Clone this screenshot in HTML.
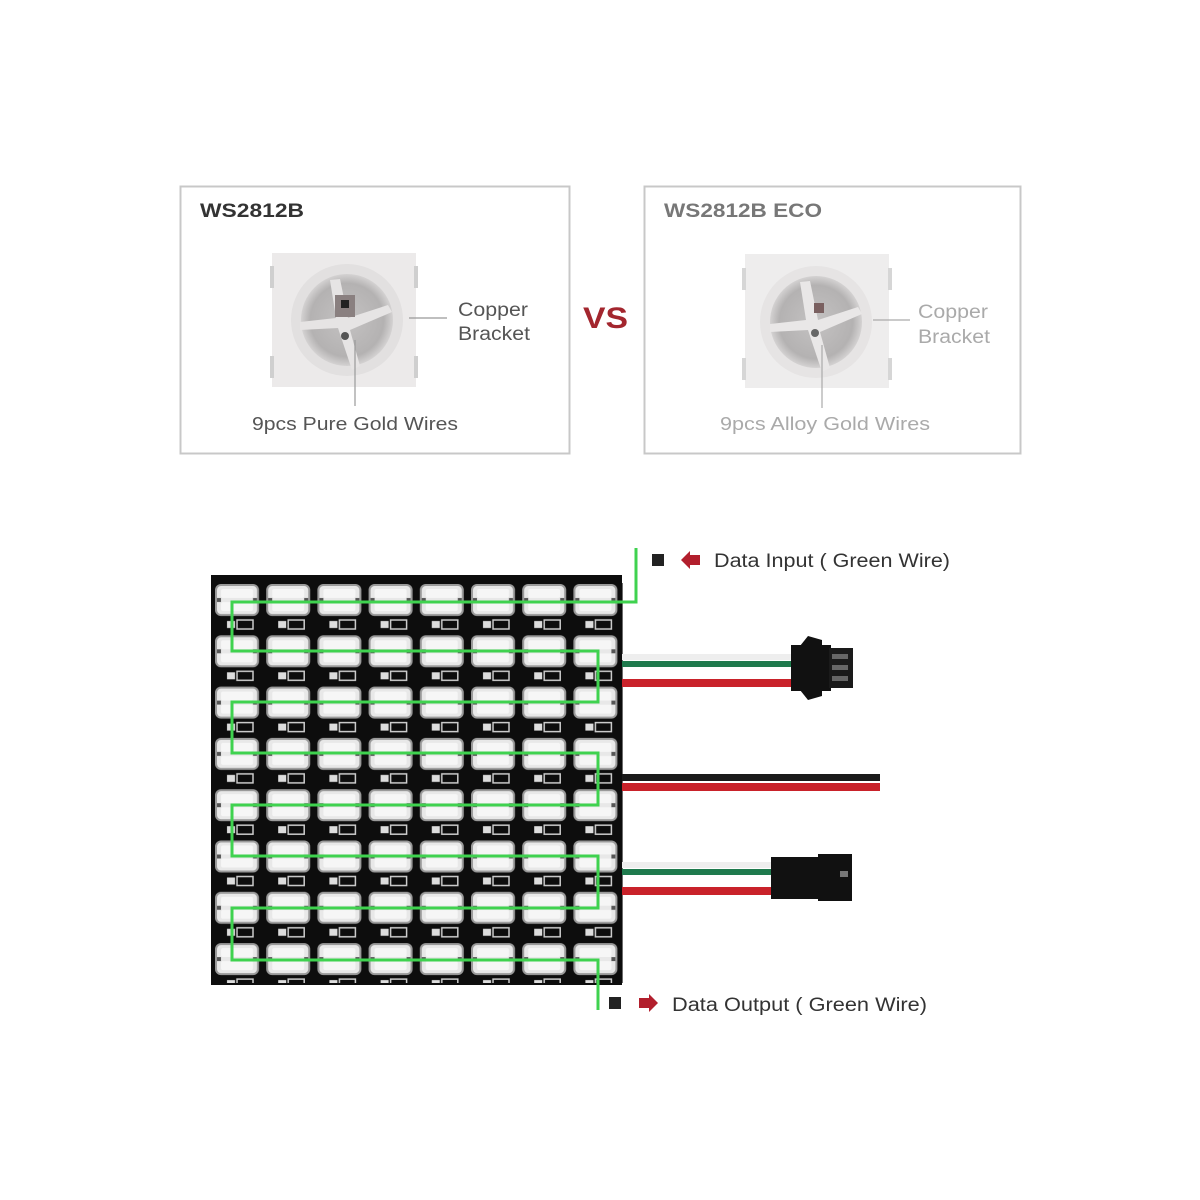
<!DOCTYPE html>
<html><head><meta charset="utf-8"><style>
html,body{margin:0;padding:0;background:#fff;}
svg{display:block;}
text{font-family:"Liberation Sans",sans-serif;}
</style></head><body>
<svg width="1200" height="1200" viewBox="0 0 1200 1200" xmlns="http://www.w3.org/2000/svg">
<defs>
  <pattern id="cell" x="213" y="583" width="51.2" height="51.3" patternUnits="userSpaceOnUse">
    <rect x="0" y="0" width="51.2" height="51.3" fill="#0d0d0d"/>
    <rect x="3" y="2" width="42" height="30" rx="5" fill="#e8e8e8" stroke="#9a9a9a" stroke-width="2"/>
    <rect x="8" y="6" width="32" height="9" rx="2" fill="#f6f6f6"/>
    <rect x="8" y="19" width="32" height="9" rx="2" fill="#f6f6f6"/>
    <rect x="4" y="15" width="4" height="4" fill="#555"/>
    <rect x="40" y="15" width="4" height="4" fill="#555"/>
    <rect x="14" y="38" width="8" height="7" fill="#ddd"/>
    <rect x="24" y="37" width="16" height="9" fill="none" stroke="#ccc" stroke-width="1.5"/>
  </pattern>
  <radialGradient id="lens" cx="50%" cy="50%" r="50%">
    <stop offset="0" stop-color="#c4c2c2"/><stop offset="0.8" stop-color="#b4b2b2"/><stop offset="1" stop-color="#d4d2d2"/>
  </radialGradient>
</defs>

<rect x="180.5" y="186.5" width="389" height="267" fill="#fff" stroke="#c8c8c8" stroke-width="2"/>
<rect x="644.5" y="186.5" width="376" height="267" fill="#fff" stroke="#c8c8c8" stroke-width="2"/>
<text x="200" y="217" font-size="19" font-weight="bold" fill="#333" textLength="104" lengthAdjust="spacingAndGlyphs">WS2812B</text>
<text x="664" y="217" font-size="19" font-weight="bold" fill="#777" textLength="158" lengthAdjust="spacingAndGlyphs">WS2812B ECO</text>
<text x="583" y="328" font-size="30" font-weight="bold" fill="#a3262e" textLength="45" lengthAdjust="spacingAndGlyphs">VS</text>

<g>
  <rect x="272" y="253" width="144" height="134" fill="#eceaea"/>
  <rect x="270" y="266" width="4" height="22" fill="#cfcfcf"/><rect x="270" y="356" width="4" height="22" fill="#cfcfcf"/>
  <rect x="414" y="266" width="4" height="22" fill="#cfcfcf"/><rect x="414" y="356" width="4" height="22" fill="#cfcfcf"/>
  <circle cx="347" cy="320" r="56" fill="#e2e0e0"/>
  <circle cx="347" cy="320" r="46" fill="url(#lens)"/>
  <path d="M330 280 L336 318 L300 322 L300 330 L338 328 L352 370 L360 366 L350 330 L392 312 L388 305 L348 318 L340 279Z" fill="#e6e4e4"/>
  <rect x="335" y="295" width="20" height="22" fill="#8a8080"/>
  <rect x="341" y="300" width="8" height="8" fill="#222"/>
  <circle cx="345" cy="336" r="4" fill="#555"/>
  <line x1="409" y1="318" x2="447" y2="318" stroke="#999" stroke-width="1.2"/>
  <line x1="355" y1="340" x2="355" y2="406" stroke="#999" stroke-width="1.2"/>
</g>
<text x="458" y="316" font-size="19" fill="#555" textLength="70" lengthAdjust="spacingAndGlyphs">Copper</text>
<text x="458" y="340" font-size="19" fill="#555" textLength="72" lengthAdjust="spacingAndGlyphs">Bracket</text>
<text x="252" y="430" font-size="18" fill="#555" textLength="206" lengthAdjust="spacingAndGlyphs">9pcs Pure Gold Wires</text>

<g>
  <rect x="745" y="254" width="144" height="134" fill="#eeeded"/>
  <rect x="742" y="268" width="4" height="22" fill="#d6d6d6"/><rect x="742" y="358" width="4" height="22" fill="#d6d6d6"/>
  <rect x="888" y="268" width="4" height="22" fill="#d6d6d6"/><rect x="888" y="358" width="4" height="22" fill="#d6d6d6"/>
  <circle cx="816" cy="322" r="56" fill="#e6e4e4"/>
  <circle cx="816" cy="322" r="46" fill="url(#lens)"/>
  <path d="M800 282 L806 320 L770 324 L770 332 L808 330 L822 372 L830 368 L820 332 L862 314 L858 307 L818 320 L810 281Z" fill="#e9e7e7"/>
  <rect x="814" y="303" width="10" height="10" fill="#7a6060"/>
  <circle cx="815" cy="333" r="4" fill="#666"/>
  <line x1="873" y1="320" x2="910" y2="320" stroke="#aaa" stroke-width="1.2"/>
  <line x1="822" y1="345" x2="822" y2="408" stroke="#aaa" stroke-width="1.2"/>
</g>
<text x="918" y="318" font-size="19" fill="#aaa" textLength="70" lengthAdjust="spacingAndGlyphs">Copper</text>
<text x="918" y="343" font-size="19" fill="#aaa" textLength="72" lengthAdjust="spacingAndGlyphs">Bracket</text>
<text x="720" y="430" font-size="18" fill="#aaa" textLength="210" lengthAdjust="spacingAndGlyphs">9pcs Alloy Gold Wires</text>

<rect x="211" y="575" width="411" height="410" fill="#0d0d0d"/>
<rect x="213" y="583" width="409.6" height="400" fill="url(#cell)"/>

<g fill="none" stroke="#3fd24f" stroke-width="3">
  <path d="M636 548 L636 602 L232 602 L232 651 L598 651 L598 702 L232 702 L232 753 L598 753 L598 805 L232 805 L232 856 L598 856 L598 908 L232 908 L232 960 L598 960 L598 1010"/>
</g>

<g>
  <rect x="622" y="654" width="172" height="6" fill="#eeeeee"/>
  <rect x="622" y="661" width="172" height="6" fill="#1f7a4d"/>
  <rect x="622" y="679" width="172" height="8" fill="#c9222a"/>
  <path d="M800 646 L808 636 L822 640 L822 646Z" fill="#111"/>
  <path d="M800 690 L808 700 L822 696 L822 690Z" fill="#111"/>
  <rect x="791" y="645" width="40" height="46" fill="#111"/>
  <rect x="829" y="648" width="24" height="40" fill="#1a1a1a"/>
  <rect x="832" y="654" width="16" height="5" fill="#666"/>
  <rect x="832" y="665" width="16" height="5" fill="#666"/>
  <rect x="832" y="676" width="16" height="5" fill="#666"/>
</g>
<rect x="622" y="774" width="258" height="7" fill="#1a1a1a"/>
<rect x="622" y="783" width="258" height="8" fill="#c9222a"/>
<g>
  <rect x="622" y="862" width="150" height="6" fill="#eeeeee"/>
  <rect x="622" y="869" width="150" height="6" fill="#1f7a4d"/>
  <rect x="622" y="887" width="150" height="8" fill="#c9222a"/>
  <rect x="771" y="857" width="50" height="42" fill="#111"/>
  <rect x="818" y="854" width="34" height="47" fill="#111"/>
  <rect x="840" y="871" width="8" height="6" fill="#777"/>
</g>

<rect x="652" y="554" width="12" height="12" fill="#222"/>
<path d="M700 555 L690 555 L690 551 L681 560 L690 569 L690 565 L700 565Z" fill="#b21f2d"/>
<text x="714" y="567" font-size="19" fill="#333" textLength="236" lengthAdjust="spacingAndGlyphs">Data Input ( Green Wire)</text>

<rect x="609" y="997" width="12" height="12" fill="#222"/>
<path d="M639 998 L649 998 L649 994 L658 1003 L649 1012 L649 1008 L639 1008Z" fill="#b21f2d"/>
<text x="672" y="1011" font-size="19" fill="#333" textLength="255" lengthAdjust="spacingAndGlyphs">Data Output ( Green Wire)</text>
</svg>
</body></html>
